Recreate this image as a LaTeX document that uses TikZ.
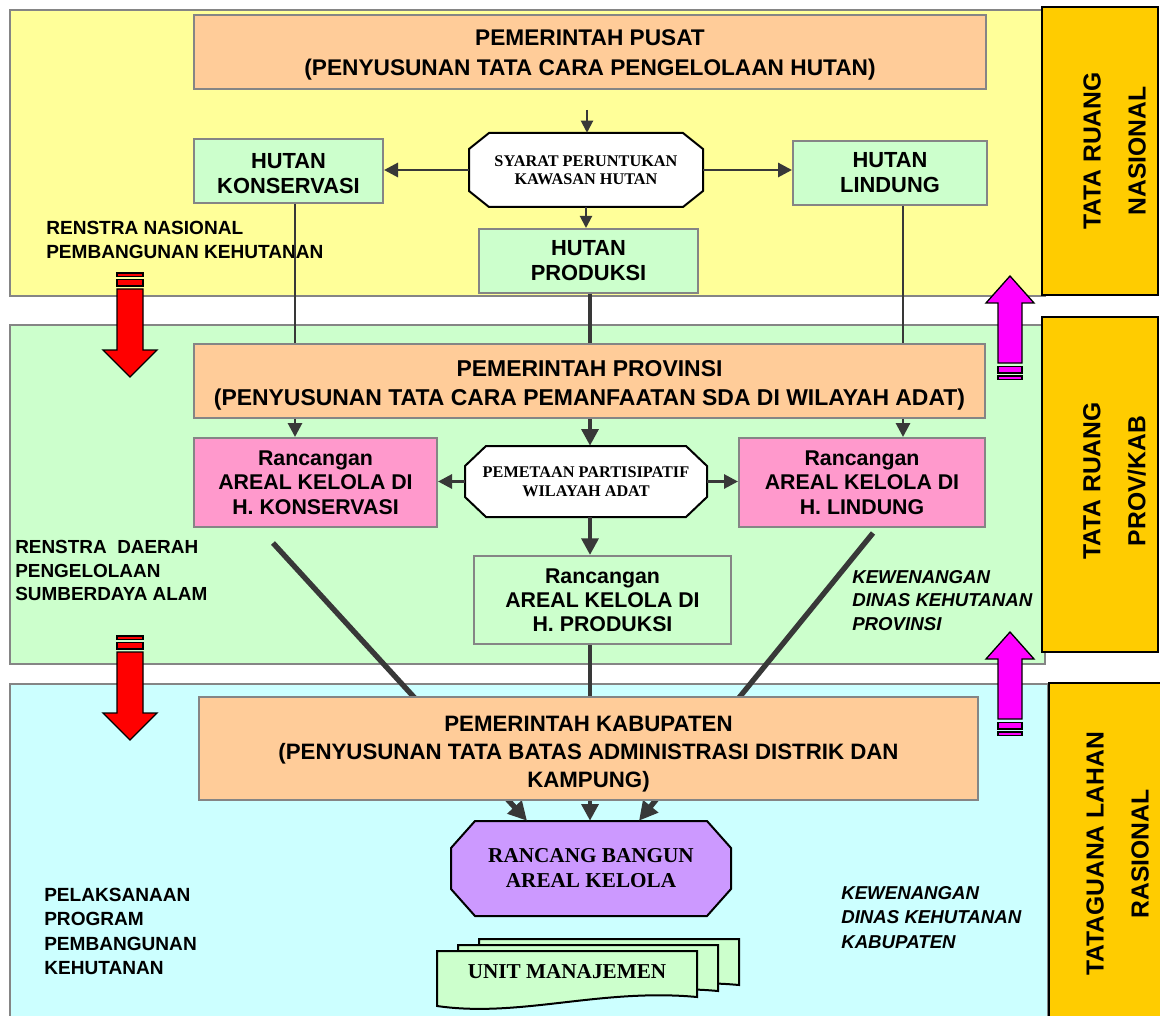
\documentclass[tikz,border=0pt]{standalone}
\usepackage{fontspec}
\setmainfont{Liberation Sans}
\newfontfamily\serifbold{Liberation Serif}
\usetikzlibrary{arrows.meta,calc,fit}
\definecolor{bandyellow}{HTML}{FFFF99}
\definecolor{bandgreen}{HTML}{CCFFCC}
\definecolor{bandcyan}{HTML}{CCFFFF}
\definecolor{peach}{HTML}{FFCC99}
\definecolor{pinkbox}{HTML}{FF99CC}
\definecolor{lavender}{HTML}{CC99FF}
\definecolor{sideorange}{HTML}{FFCC00}
\definecolor{arrowgray}{HTML}{383838}
\definecolor{bordergray}{HTML}{858585}
\definecolor{redarrow}{HTML}{FF0000}
\definecolor{magentaarrow}{HTML}{FF00FF}
\newcommand\liftline[1]{\rule{0pt}{#1}}
\newcommand\octpath[7]{%
  \draw[octline,fill=#7] (#1+#5,#2) -- (#3-#5,#2) -- (#3,#2+#6) -- (#3,#4-#6) -- (#3-#5,#4) -- (#1+#5,#4) -- (#1,#4-#6) -- (#1,#2+#6) -- cycle;}
\newcommand\docpath[4]{%
  \draw[docline] (#1,#2) -- (#3,#2) -- (#3,#4) .. controls (#3-97,#4-9) and (#1+83,#4+21) .. (#1,#4+9) -- cycle;}
\newcommand\reddown[1]{%
  \draw[blockred] (117,273+#1) rectangle (143,276.5+#1);
  \draw[blockred] (117,279.5+#1) rectangle (143,286+#1);
  \draw[blockred] (117,289+#1) -- (143,289+#1) -- (143,350+#1) -- (157,350+#1) -- (130,377+#1) -- (103,350+#1) -- (117,350+#1) -- cycle;}
\newcommand\magup[1]{%
  \draw[blockmag] (998,366.5+#1) rectangle (1022,373+#1);
  \draw[blockmag] (998,376+#1) rectangle (1022,379.5+#1);
  \draw[blockmag] (998,363+#1) -- (998,303+#1) -- (986,303+#1) -- (1010,276+#1) -- (1034,303+#1) -- (1022,303+#1) -- (1022,363+#1) -- cycle;}
\begin{document}
\begin{tikzpicture}[x=0.75pt,y=-0.75pt,
  band/.style={draw=bordergray,line width=1.5pt,inner sep=0pt},
  sidebox/.style={draw=black,line width=1.5pt,fill=sideorange,inner sep=0pt},
  sidetxt/.style={align=center,inner sep=0pt,font=\fontsize{18.5}{33.75}\selectfont\bfseries},
  box/.style={draw=bordergray,line width=1.5pt,inner sep=0pt,align=center},
  ttl/.style={font=\fontsize{17}{22.5}\selectfont\bfseries},
  hut/.style={font=\fontsize{16.4}{18.75}\selectfont\bfseries},
  ranc/.style={font=\fontsize{16}{18.4}\selectfont\bfseries},
  octline/.style={draw=black,line width=1.5pt},
  octtxt/.style={inner sep=0pt,align=center,font=\serifbold\fontsize{12.2}{13.8}\selectfont\bfseries},
  bigserif/.style={inner sep=0pt,align=center,font=\serifbold\fontsize{15.9}{18.75}\selectfont\bfseries},
  docline/.style={draw=black,line width=1.5pt,fill=bandgreen},
  lbl/.style={align=left,inner sep=0pt,font=\fontsize{14.3}{18}\selectfont\bfseries},
  lbli/.style={align=left,inner sep=0pt,font=\fontsize{14}{17.6}\selectfont\bfseries\itshape},
  blockred/.style={draw=black,line width=1pt,fill=redarrow},
  blockmag/.style={draw=black,line width=1pt,fill=magentaarrow},
  arrS/.style={draw=arrowgray,line width=1.5pt,-{Triangle[length=9pt,width=9pt]}},
  arrM/.style={draw=arrowgray,line width=2.2pt,-{Triangle[length=10.5pt,width=10.5pt]}},
  arrL/.style={draw=arrowgray,line width=3.2pt,-{Triangle[length=12.5pt,width=12.5pt]}},
  arrD/.style={draw=arrowgray,line width=4pt,-{Triangle[length=14pt,width=14pt]}},
  conn/.style={draw=arrowgray,line width=2.2pt},
  connT/.style={draw=arrowgray,line width=3.6pt}]
\useasboundingbox (0,0) rectangle (1160,1016);
\fill[white] (0,0) rectangle (1160,1016);
% bands
\node[band,fill=bandyellow,fit={(10,10) (1045,296)}] (bandA) {};
\node[band,fill=bandgreen,fit={(10,325) (1045,664)}] (bandB) {};
\node[band,fill=bandcyan,fit={(10,684) (1048,1030)}] (bandC) {};
% side boxes
\node[sidebox,fit={(1042,7) (1158,295)}] (sideA) {};
\node[sidebox,fit={(1042,317) (1158,652)}] (sideB) {};
\node[sidebox,fit={(1049,683) (1170,1030)}] (sideC) {};
\node[sidetxt,rotate=90] (sideAt) at (1114.5,151) {TATA RUANG\\NASIONAL};
\node[sidetxt,rotate=90] (sideBt) at (1114.5,481) {TATA RUANG\\PROV/KAB};
\node[sidetxt,rotate=90] (sideCt) at (1117.5,854) {TATAGUANA LAHAN\\RASIONAL};
% block arrows
\reddown{0}
\reddown{363}
\magup{0}
\magup{356}
% top band
\node[box,ttl,fill=peach,minimum width=594pt,minimum height=55.5pt] (pusat) at (590,52) {\liftline{17pt}PEMERINTAH PUSAT\\(PENYUSUNAN TATA CARA PENGELOLAAN HUTAN)};
\octpath{469}{133}{703}{207}{20}{16}{white}
\node[octtxt,minimum width=175.5pt,minimum height=55.5pt] (syarat) at (586,170) {SYARAT PERUNTUKAN\\KAWASAN HUTAN};
\node[box,hut,fill=bandgreen,minimum width=141.75pt,minimum height=48pt] (konservasi) at (288.5,171) {\liftline{14.5pt}HUTAN\\KONSERVASI};
\node[box,hut,fill=bandgreen,minimum width=145.5pt,minimum height=48pt] (lindung) at (890,173) {HUTAN\\LINDUNG};
\node[box,hut,fill=bandgreen,minimum width=164.25pt,minimum height=48pt] (produksi) at (588.5,261) {HUTAN\\PRODUKSI};
\node[lbl,anchor=west] (renstraN) at (46,240) {RENSTRA NASIONAL\\PEMBANGUNAN KEHUTANAN};
% middle band
\node[box,fill=peach,font=\fontsize{17.2}{21.75}\selectfont\bfseries,minimum width=593.25pt,minimum height=55.5pt] (provinsi) at (589.5,381) {\liftline{18.5pt}PEMERINTAH PROVINSI\\(PENYUSUNAN TATA CARA PEMANFAATAN SDA DI WILAYAH ADAT)};
\node[box,ranc,fill=pinkbox,minimum width=182.25pt,minimum height=66.75pt] (rk) at (315.5,482.5) {Rancangan\\AREAL KELOLA DI\\H. KONSERVASI};
\node[box,ranc,fill=pinkbox,minimum width=184.5pt,minimum height=66.75pt] (rl) at (862,482.5) {Rancangan\\AREAL KELOLA DI\\H. LINDUNG};
\octpath{465}{446}{707}{517}{21}{20}{white}
\node[octtxt,font=\serifbold\fontsize{12.2}{14.25}\selectfont\bfseries,minimum width=181.5pt,minimum height=53.25pt] (pemetaan) at (586,481.5) {PEMETAAN PARTISIPATIF\\WILAYAH ADAT};
\node[box,font=\fontsize{16}{18}\selectfont\bfseries,fill=bandgreen,minimum width=192.75pt,minimum height=66pt] (rp) at (602.5,600) {Rancangan\\AREAL KELOLA DI\\H. PRODUKSI};
\node[lbl,font=\fontsize{14.2}{17.6}\selectfont\bfseries,anchor=west] (renstraD) at (15,570.5) {RENSTRA~~DAERAH\\PENGELOLAAN\\SUMBERDAYA ALAM};
\node[lbli,anchor=west] (kewP) at (852,600.5) {KEWENANGAN\\DINAS KEHUTANAN\\PROVINSI};
% bottom band
\octpath{451}{821}{731}{916}{24}{27}{lavender}
\node[bigserif,minimum width=210pt,minimum height=71.25pt] (rancang) at (591,868.5) {RANCANG BANGUN\\AREAL KELOLA};
\docpath{479}{939}{739}{985}
\docpath{458}{945}{718}{991}
\docpath{437}{951}{697}{997}
\node[bigserif] (unit) at (567,972) {UNIT MANAJEMEN};
\node[lbl,font=\fontsize{14.3}{18.2}\selectfont\bfseries,anchor=west] (pelaks) at (44,931.5) {PELAKSANAAN\\PROGRAM\\PEMBANGUNAN\\KEHUTANAN};
\node[lbli,font=\fontsize{14}{18.4}\selectfont\bfseries\itshape,anchor=west] (kewK) at (841,917.5) {KEWENANGAN\\DINAS KEHUTANAN\\KABUPATEN};
% helper coordinates
\coordinate (pin) at (587,110);
\coordinate (xk) at (295,0);
\coordinate (xm) at (590,0);
\coordinate (xl) at (903,0);
\coordinate (dl) at (273,543);
\coordinate (dr) at (873,533);
% diagonals (behind kabupaten)
\draw[arrD] (dl) -- ($(rancang.north)+(-64,0)$);
\draw[arrD] (dr) -- ($(rancang.north)+(48,0)$);
\node[box,fill=peach,font=\fontsize{16.7}{21}\selectfont\bfseries,minimum width=584.25pt,minimum height=77.25pt] (kab) at (588.5,748.5) {\liftline{19.5pt}PEMERINTAH KABUPATEN\\(PENYUSUNAN TATA BATAS ADMINISTRASI DISTRIK DAN\\KAMPUNG)};
% connectors
\draw[arrS] (pin) -- (pin |- syarat.north);
\draw[arrM] (syarat.west) -- (syarat.west -| konservasi.east);
\draw[arrM] (syarat.east) -- (syarat.east -| lindung.west);
\draw[arrS] (syarat.south) -- (syarat.south |- produksi.north);
\draw[conn] (konservasi.south -| xk) -- (provinsi.north -| xk);
\draw[conn] (lindung.south -| xl) -- (provinsi.north -| xl);
\draw[connT] (produksi.south -| xm) -- (provinsi.north -| xm);
\draw[arrM] (provinsi.south -| xk) -- (rk.north -| xk);
\draw[arrL] (provinsi.south -| xm) -- (pemetaan.north -| xm);
\draw[arrM] (provinsi.south -| xl) -- (rl.north -| xl);
\draw[arrM] (pemetaan.west) -- (pemetaan.west -| rk.east);
\draw[arrM] (pemetaan.east) -- (pemetaan.east -| rl.west);
\draw[arrL] (pemetaan.south -| xm) -- (rp.north -| xm);
\draw[connT] (rp.south -| xm) -- (kab.north -| xm);
\draw[arrL] (kab.south -| xm) -- (rancang.north -| xm);
\end{tikzpicture}
\end{document}
